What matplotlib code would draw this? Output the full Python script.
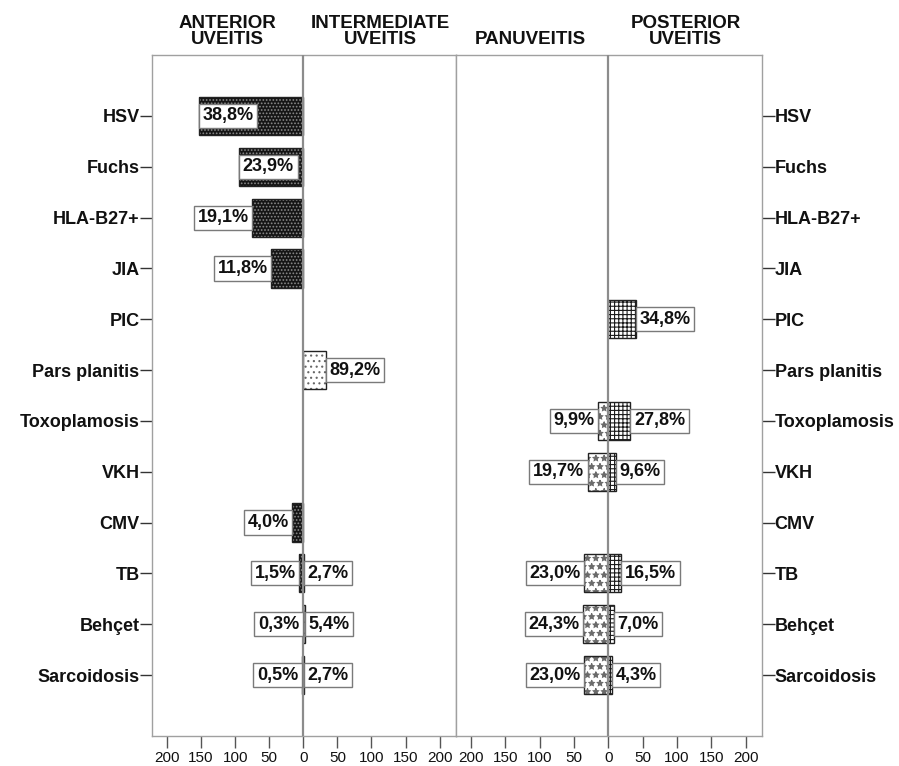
import matplotlib
matplotlib.use("Agg")
import matplotlib.pyplot as plt
import numpy as np

plt.rcParams["font.family"] = ["Liberation Sans", "DejaVu Sans"]
plt.rcParams["hatch.linewidth"] = 0.8

categories = ["HSV", "Fuchs", "HLA-B27+", "JIA", "PIC", "Pars planitis",
              "Toxoplamosis", "VKH", "CMV", "TB", "Behçet", "Sarcoidosis"]

# counts per category (bars) and printed percentages (labels)
anterior = [153, 94, 75, 47, 0, 0, 0, 0, 16, 6, 1, 2]
anterior_pct = ["38,8%", "23,9%", "19,1%", "11,8%", "", "", "", "", "4,0%", "1,5%", "0,3%", "0,5%"]
intermediate = [0, 0, 0, 0, 0, 33, 0, 0, 0, 1, 2, 1]
intermediate_pct = ["", "", "", "", "", "89,2%", "", "", "", "2,7%", "5,4%", "2,7%"]
panuveitis = [0, 0, 0, 0, 0, 0, 15, 30, 0, 35, 37, 35]
panuveitis_pct = ["", "", "", "", "", "", "9,9%", "19,7%", "", "23,0%", "24,3%", "23,0%"]
posterior = [0, 0, 0, 0, 40, 0, 32, 11, 0, 19, 8, 5]
posterior_pct = ["", "", "", "", "34,8%", "", "27,8%", "9,6%", "", "16,5%", "7,0%", "4,3%"]
labels_inside = ["HSV", "Fuchs"]  # anterior labels drawn over the bar

ticks = [-200, -150, -100, -50, 0, 50, 100, 150, 200]
tick_labels = [str(abs(t)) for t in ticks]

GRAY = "#8c8c8c"
TXT = "#111111"
FS = 13
PAD = 0.2

fig = plt.figure(figsize=(8.99, 7.66), dpi=100)
W, H = 899, 766
ax1 = fig.add_axes([152 / W, 30 / H, 304 / W, 681 / H])
ax2 = fig.add_axes([456 / W, 30 / H, 306 / W, 681 / H])

y = np.arange(len(categories))


def draw_bars(ax, vals, sign, face, hcolor, hatch):
    v = sign * np.array(vals, dtype=float)
    keep = v != 0
    ax.barh(y[keep], v[keep], height=0.75, color=face, edgecolor=hcolor, hatch=hatch,
            linewidth=0, zorder=2)
    ax.barh(y[keep], v[keep], height=0.75, fill=False, edgecolor="#222222", linewidth=1.0, zorder=3)


def draw_labels(ax, vals, pcts, sign, inside=()):
    for i, (v, p) in enumerate(zip(vals, pcts)):
        if not p:
            continue
        end = sign * v
        pad_pt = PAD * FS
        if categories[i] in inside:
            ha = "left" if sign < 0 else "right"
            off = pad_pt if sign < 0 else -pad_pt
        else:
            ha = "right" if sign < 0 else "left"
            off = -pad_pt if sign < 0 else pad_pt
        ax.annotate(p, xy=(end, i), xytext=(off, 0), textcoords="offset points",
                    ha=ha, va="center", fontsize=FS, fontweight="bold", color=TXT, zorder=5,
                    bbox=dict(boxstyle="square,pad=%.2f" % PAD, fc="white", ec="#7a7a7a", lw=1.0))


# left panel: anterior vs intermediate
draw_bars(ax1, anterior, -1, "#151515", "#8a8a8a", ".....")
draw_bars(ax1, intermediate, 1, "white", "#666666", "...")
draw_labels(ax1, anterior, anterior_pct, -1, labels_inside)
draw_labels(ax1, intermediate, intermediate_pct, 1)

# right panel: panuveitis vs posterior
draw_bars(ax2, panuveitis, -1, "white", "#6a6a6a", "**")
draw_bars(ax2, posterior, 1, "white", "#1a1a1a", "++++")
draw_labels(ax2, panuveitis, panuveitis_pct, -1)
draw_labels(ax2, posterior, posterior_pct, 1)

for ax in (ax1, ax2):
    ax.set_xlim(-222, 224)
    ax.set_ylim(len(categories) - 1 + 1.2, -1.2)
    ax.axvline(0, color=GRAY, lw=1.6, zorder=4)
    ax.set_xticks(ticks)
    ax.set_xticklabels(tick_labels, fontsize=11, color=TXT)
    ax.tick_params(axis="x", length=8.5, width=1, color="#555555", pad=2)
    for s in ax.spines.values():
        s.set_color("#a0a0a0")
        s.set_linewidth(1.0)

ax1.set_yticks(y)
ax1.set_yticklabels(categories, fontsize=FS, fontweight="bold", color=TXT)
ax1.tick_params(axis="y", length=9, width=1, color="#333333", pad=0)

ax2.set_yticks(y)
ax2.yaxis.tick_right()
ax2.set_yticklabels(categories, fontsize=FS, fontweight="bold", color=TXT)
ax2.tick_params(axis="y", length=9, width=1, color="#333333", pad=0)

# headers above each half
headers = [(ax1, -112, "ANTERIOR\nUVEITIS"), (ax1, 113, "INTERMEDIATE\nUVEITIS"),
           (ax2, -114, "PANUVEITIS"), (ax2, 113, "POSTERIOR\nUVEITIS")]
for ax, xc, txt in headers:
    ax.annotate(txt, xy=(xc, 1.0), xycoords=ax.get_xaxis_transform(), xytext=(0, 5),
                textcoords="offset points", ha="center", va="bottom", multialignment="center",
                fontsize=13.5, fontweight="bold", color=TXT, linespacing=0.95)

fig.savefig("out.png", dpi=100)
